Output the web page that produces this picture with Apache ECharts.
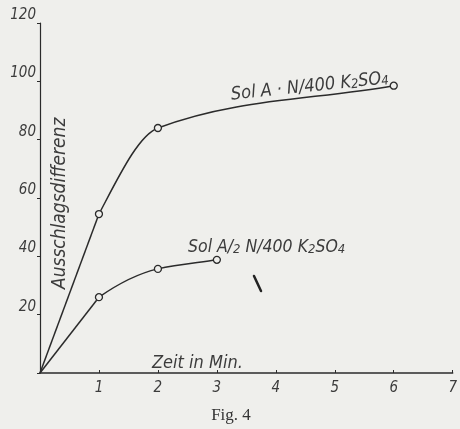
<!DOCTYPE html>
<html>
<head>
<meta charset="utf-8">
<script src="https://cdn.jsdelivr.net/npm/echarts@6/dist/echarts.min.js"></script>
<style>
html,body{margin:0;padding:0;background:#efefec;}
#c{width:460px;height:429px;}
</style>
</head>
<body>
<div id="c"></div>
<script>
// Data
const timeMin = [0, 1, 2, 6];
const solA = [0, 54.5, 84, 98.5];
const timeHalf = [0, 1, 2, 3];
const solAHalf = [0, 26, 35.7, 38.8];
const xTicks = [1, 2, 3, 4, 5, 6, 7];
const yTicks = [20, 40, 60, 80, 100, 120];

const ink = '#2b2b2b';
const txt = '#3c3c3c';
const paper = '#efefec';
const hand = "'Liberation Sans Narrow','DejaVu Sans Condensed','Liberation Sans',sans-serif";

// Hand-drawn curve: straight from origin to the first reading, then a smooth
// monotone (Fritsch-Carlson) cubic through the remaining readings.
function curveSeries(xs, ys) {
  return {
    type: 'custom',
    data: xs.map((x, i) => [x, ys[i]]),
    silent: true,
    z: 2,
    renderItem: function (params, api) {
      if (params.dataIndex !== 0) return null;
      const p = xs.map((x, i) => api.coord([x, ys[i]]));
      const n = p.length;
      const h = [], s = [];
      for (let i = 0; i < n - 1; i++) {
        h.push(p[i + 1][0] - p[i][0]);
        s.push((p[i + 1][1] - p[i][1]) / h[i]);
      }
      const m = new Array(n);
      m[n - 1] = s[n - 2];
      for (let i = 1; i < n - 1; i++) {
        const w1 = 2 * h[i] + h[i - 1], w2 = h[i] + 2 * h[i - 1];
        m[i] = (w1 + w2) / (w1 / s[i - 1] + w2 / s[i]);
      }
      const children = [{
        type: 'line',
        shape: { x1: p[0][0], y1: p[0][1], x2: p[1][0], y2: p[1][1] },
        style: { stroke: ink, lineWidth: 1.5, fill: null }
      }];
      for (let i = 1; i < n - 1; i++) {
        const d = h[i] / 3;
        children.push({
          type: 'bezierCurve',
          shape: {
            x1: p[i][0], y1: p[i][1], x2: p[i + 1][0], y2: p[i + 1][1],
            cpx1: p[i][0] + d, cpy1: p[i][1] + m[i] * d,
            cpx2: p[i + 1][0] - d, cpy2: p[i + 1][1] - m[i + 1] * d
          },
          style: { stroke: ink, lineWidth: 1.5, fill: null }
        });
      }
      return { type: 'group', children: children };
    }
  };
}

function markers(xs, ys) {
  return {
    type: 'scatter',
    data: xs.slice(1).map((x, i) => [x, ys[i + 1]]),
    symbol: 'circle', symbolSize: 7, z: 3,
    itemStyle: { color: paper, borderColor: ink, borderWidth: 1.3, opacity: 1 }
  };
}

const richMain = (size) => ({
  n: { fontFamily: hand, fontStyle: 'italic', fontSize: size, lineHeight: size + 4, verticalAlign: 'bottom', fill: txt },
  s: { fontFamily: hand, fontStyle: 'italic', fontSize: Math.round(size * 0.72), lineHeight: 9, verticalAlign: 'bottom', fill: txt }
});

const chart = echarts.init(document.getElementById('c'));
chart.setOption({
  backgroundColor: paper,
  animation: false,
  grid: { left: 40, right: 5, top: 23, bottom: 56 },
  xAxis: {
    type: 'value', min: 0, max: 7, interval: 1,
    axisLine: { lineStyle: { color: ink, width: 1.5 } },
    axisTick: { inside: true, length: 3, lineStyle: { color: ink } },
    splitLine: { show: false },
    axisLabel: {
      color: txt, fontFamily: hand, fontStyle: 'italic', fontSize: 15, margin: 8,
      formatter: v => (xTicks.indexOf(v) >= 0 ? String(v) : '')
    }
  },
  yAxis: {
    type: 'value', min: 0, max: 120, interval: 20,
    axisLine: { show: true, lineStyle: { color: ink, width: 1.2 } },
    axisTick: { show: true, length: 3, lineStyle: { color: ink } },
    splitLine: { show: false },
    axisLabel: {
      color: txt, fontFamily: hand, fontStyle: 'italic', fontSize: 15, margin: 4,
      verticalAlign: 'bottom', lineHeight: 16,
      formatter: v => (yTicks.indexOf(v) >= 0 ? String(v) : '')
    }
  },
  series: [
    curveSeries(timeMin, solA),
    curveSeries(timeHalf, solAHalf),
    markers(timeMin, solA),
    markers(timeHalf, solAHalf)
  ],
  graphic: [
    {
      type: 'text', x: 232, y: 104, rotation: 6 * Math.PI / 180,
      style: { text: '{n|Sol A · N/400 K}{s|2}{n|SO}{s|4}', rich: richMain(18), textVerticalAlign: 'bottom' }
    },
    {
      type: 'text', x: 188, y: 256,
      style: { text: '{n|Sol A/}{s|2}{n| N/400 K}{s|2}{n|SO}{s|4}', rich: richMain(17.5), textVerticalAlign: 'bottom' }
    },
    {
      type: 'text', x: 152, y: 372,
      style: { text: 'Zeit in Min.', fill: txt, font: 'italic 18px ' + hand, textVerticalAlign: 'bottom' }
    },
    {
      type: 'text', x: 70, y: 289, rotation: Math.PI / 2,
      style: { text: 'Ausschlagsdifferenz', fill: txt, font: 'italic 19px ' + hand, textVerticalAlign: 'bottom' }
    },
    {
      type: 'text', x: 231, y: 416,
      style: { text: 'Fig. 4', fill: '#333', font: '17px "Liberation Serif", "DejaVu Serif", serif', textAlign: 'center', textVerticalAlign: 'middle' }
    },
    {
      type: 'line', shape: { x1: 254, y1: 276, x2: 261, y2: 291 },
      style: { stroke: '#222', lineWidth: 2.5, lineCap: 'round' }
    }
  ]
});
</script>
</body>
</html>
